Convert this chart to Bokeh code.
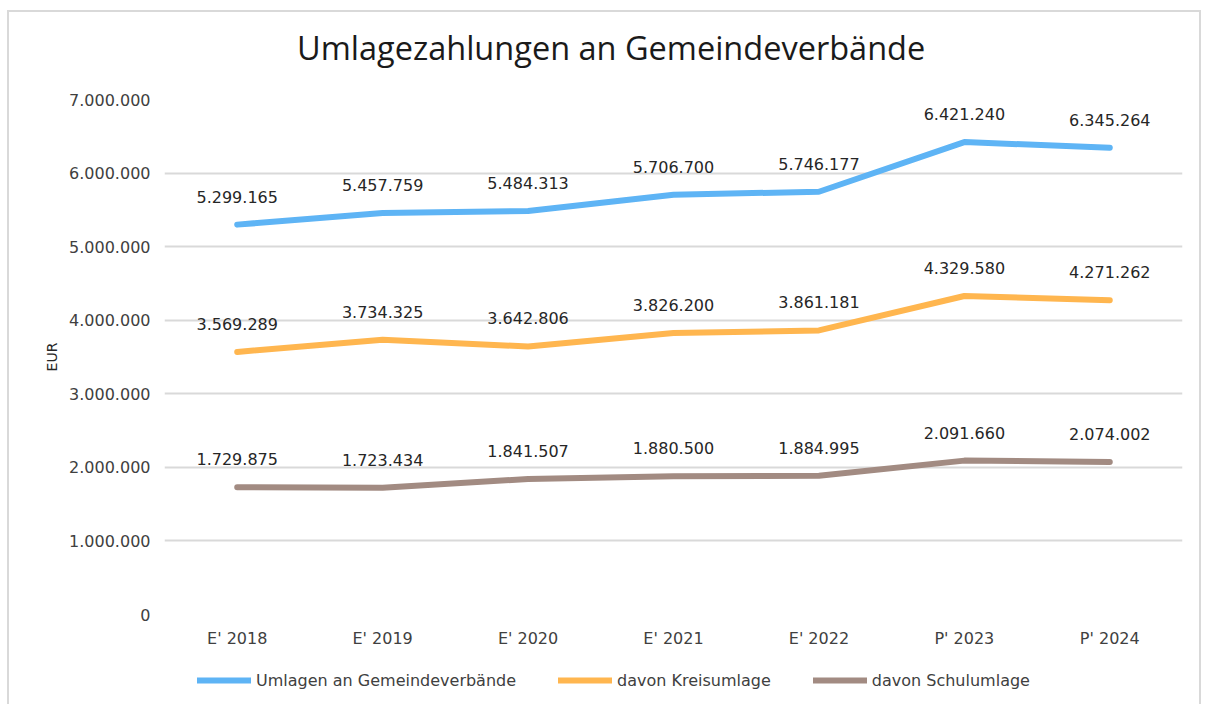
from bokeh.plotting import figure
from bokeh.models import ColumnDataSource, Legend, LegendItem, FactorRange, CustomJSTickFormatter, Range1d, Div
from bokeh.layouts import column
from bokeh.core.properties import value
from bokeh.embed import file_html
from bokeh.resources import INLINE

categories = ["E' 2018", "E' 2019", "E' 2020", "E' 2021", "E' 2022", "P' 2023", "P' 2024"]
umlagen = [5299165, 5457759, 5484313, 5706700, 5746177, 6421240, 6345264]
kreisumlage = [3569289, 3734325, 3642806, 3826200, 3861181, 4329580, 4271262]
schulumlage = [1729875, 1723434, 1841507, 1880500, 1884995, 2091660, 2074002]
series_names = ["Umlagen an Gemeindeverbände", "davon Kreisumlage", "davon Schulumlage"]
colors = ["#5EB4F5", "#FFB64F", "#A28B82"]
title_text = "Umlagezahlungen an Gemeindeverbände"

FONT = "DejaVu Sans"

def de(v):
    return f"{v:,}".replace(",", ".")

title_div = Div(text=title_text, width=1190, height=60, margin=0,
                styles={"font-family": "'Open Sans'", "font-size": "32.5px", "line-height": "40px",
                        "padding-top": "16px", "padding-left": "288px", "color": "#1a1a1a",
                        "box-sizing": "border-box", "white-space": "nowrap"})

p = figure(x_range=FactorRange(*categories), y_range=Range1d(0, 7000000),
           width=1190, height=582, output_backend="svg", toolbar_location=None,
           min_border_left=155, min_border_right=17, min_border_top=27, min_border_bottom=40)

p.outline_line_color = None
p.background_fill_color = "white"
p.border_fill_color = "white"

p.xgrid.grid_line_color = None
p.ygrid.grid_line_color = "#d9d9d9"
p.ygrid.grid_line_width = 2
p.yaxis.ticker = [0, 1000000, 2000000, 3000000, 4000000, 5000000, 6000000, 7000000]
p.yaxis.formatter = CustomJSTickFormatter(code="""
return Math.round(tick).toString().replace(/\\B(?=(\\d{3})+(?!\\d))/g, ".");
""")
for ax in (p.xaxis, p.yaxis):
    ax.axis_line_color = None
    ax.major_tick_line_color = None
    ax.minor_tick_line_color = None
    ax.major_tick_out = 0
    ax.major_tick_in = 0
    ax.major_label_text_font = FONT
    ax.major_label_text_font_size = "16px"
    ax.major_label_text_color = "#404040"
p.yaxis.major_label_standoff = 14
p.xaxis.major_label_standoff = 14
p.yaxis.axis_label = "EUR"
p.yaxis.axis_label_text_font = FONT
p.yaxis.axis_label_text_font_size = "14px"
p.yaxis.axis_label_text_font_style = "normal"
p.yaxis.axis_label_text_color = "#262626"
p.yaxis.axis_label_standoff = 6

leg = figure(x_range=FactorRange(*categories), y_range=Range1d(-2, -1),
             width=1190, height=52, output_backend="svg", toolbar_location=None,
             x_axis_type=None, y_axis_type=None,
             min_border_left=0, min_border_right=0, min_border_top=0, min_border_bottom=0)
leg.outline_line_color = None
leg.xgrid.grid_line_color = None
leg.ygrid.grid_line_color = None

items = []
for name, vals, col in zip(series_names, [umlagen, kreisumlage, schulumlage], colors):
    src = ColumnDataSource(dict(x=categories, y=vals, lbl=[de(v) for v in vals]))
    p.line("x", "y", source=src, line_color=col, line_width=6, line_cap="round", line_join="round")
    p.text("x", "y", text="lbl", source=src, text_font=value(FONT), text_font_size="16px",
           text_color="#262626", text_align="center", text_baseline="middle", y_offset=-28)
    r = leg.line("x", "y", source=src, line_color=col, line_width=6, line_cap="round")
    items.append(LegendItem(label=name, renderers=[r]))

legend = Legend(items=items, orientation="horizontal", location=(33, 16),
                label_text_font=FONT, label_text_font_size="16px", label_text_color="#404040",
                glyph_width=54, glyph_height=20, label_standoff=5, spacing=42,
                padding=0, margin=0, border_line_color=None, background_fill_alpha=0)
leg.add_layout(legend, "center")

root = column(title_div, p, leg, margin=(10, 0, 0, 7), styles={"border": "2px solid #d9d9d9"})

open("out.html", "w").write(file_html(root, INLINE))
